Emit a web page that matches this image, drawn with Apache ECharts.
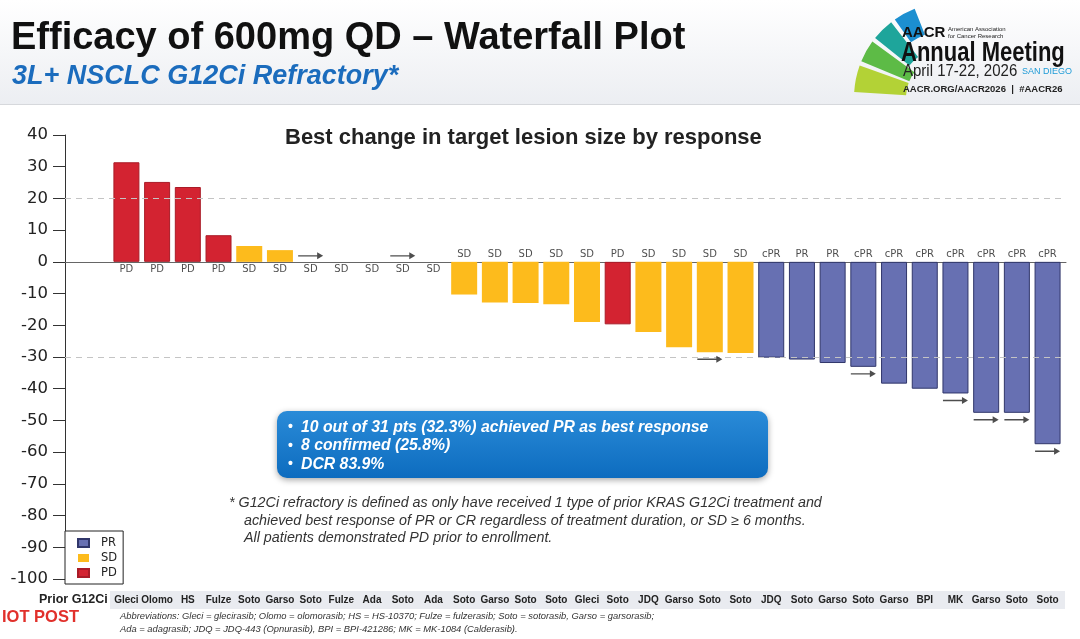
<!DOCTYPE html>
<html>
<head>
<meta charset="utf-8">
<script src="https://cdn.jsdelivr.net/npm/echarts@6/dist/echarts.min.js"></script>
<style>
  html, body { margin: 0; padding: 0; background: #fff; }
  #main { width: 1080px; height: 639px; }
</style>
</head>
<body>
<div id="main"></div>
<script>
// best % change in target lesion size, one per patient (left to right)
const changes = [31.4, 25.2, 23.6, 8.4, 5.0, 3.7, 0, 0, 0, 0, 0,
  -10.3, -12.8, -13.0, -13.4, -19.0, -19.7, -22.1, -26.9, -28.5, -28.7,
  -30.2, -30.8, -31.9, -33.1, -38.4, -40.0, -41.5, -47.6, -47.6, -57.5];

const responses = ['PD', 'PD', 'PD', 'PD', 'SD', 'SD', 'SD', 'SD', 'SD', 'SD', 'SD',
  'SD', 'SD', 'SD', 'SD', 'SD', 'PD', 'SD', 'SD', 'SD', 'SD',
  'cPR', 'PR', 'PR', 'cPR', 'cPR', 'cPR', 'cPR', 'cPR', 'cPR', 'cPR'];

const priorG12Ci = ['Gleci', 'Olomo', 'HS', 'Fulze', 'Soto', 'Garso', 'Soto', 'Fulze', 'Ada', 'Soto', 'Ada',
  'Soto', 'Garso', 'Soto', 'Soto', 'Gleci', 'Soto', 'JDQ', 'Garso', 'Soto', 'Soto',
  'JDQ', 'Soto', 'Garso', 'Soto', 'Garso', 'BPI', 'MK', 'Garso', 'Soto', 'Soto'];

// 1 = still on treatment (arrow)
const ongoing = [0, 0, 0, 0, 0, 0, 1, 0, 0, 1, 0,
  0, 0, 0, 0, 0, 0, 0, 0, 1, 0,
  0, 0, 0, 1, 0, 0, 1, 1, 1, 1];

const groups = ['PR', 'SD', 'PD'];
const groupColors = { PR: '#6770b2', SD: '#fdbb1c', PD: '#d32331' };
const groupBorders = { PR: '#30366a', SD: '#fdbb1c', PD: '#a91b27' };

const refLines = [20, -30];

function groupOf(r) {
  return r === 'cPR' ? 'PR' : r;
}

const arrowPath = 'path://M0,3.3 L19,3.3 L19,0.5 L25,4 L19,7.5 L19,4.7 L0,4.7 Z';

var myChart = echarts.init(document.getElementById('main'));

let barSeries = groups.map(function (g) {
  let data = [];
  changes.forEach(function (v, i) {
    if (groupOf(responses[i]) == g) data.push([i, v]);
  });
  return {
    name: g,
    type: 'bar',
    xAxisIndex: 0,
    barWidth: 26,
    barGap: '-100%',
    data: data,
    itemStyle: {
      color: groupColors[g],
      borderColor: groupBorders[g],
      borderWidth: g == 'SD' ? 0 : 1
    }
  };
});

let option = {
  backgroundColor: '#ffffff',
  animation: false,
  title: [
    {
      text: 'Efficacy of 600mg QD – Waterfall Plot',
      left: 11, top: 20, padding: 0,
      textStyle: { fontFamily: 'Liberation Sans', fontSize: 38, fontWeight: 'bold', color: '#111' }
    },
    {
      text: '3L+ NSCLC G12Ci Refractory*',
      left: 12, top: 63, padding: 0,
      textStyle: { fontFamily: 'Liberation Sans', fontSize: 27, fontStyle: 'italic', fontWeight: 'bold', color: '#1b6cbd' }
    },
    {
      text: 'Best change in target lesion size by response',
      left: 285, top: 127, padding: 0,
      textStyle: { fontFamily: 'Liberation Sans', fontSize: 22, fontWeight: 'bold', color: '#222' }
    },
    {
      text: '* G12Ci refractory is defined as only have received 1 type of prior KRAS G12Ci treatment and',
      left: 229, top: 496, padding: 0,
      textStyle: { fontFamily: 'Liberation Sans', fontSize: 14.3, fontStyle: 'italic', fontWeight: 'normal', color: '#333' }
    },
    {
      text: 'achieved best response of PR or CR regardless of treatment duration, or SD ≥ 6 months.',
      left: 244, top: 514, padding: 0,
      textStyle: { fontFamily: 'Liberation Sans', fontSize: 14.3, fontStyle: 'italic', fontWeight: 'normal', color: '#333' }
    },
    {
      text: 'All patients demonstrated PD prior to enrollment.',
      left: 244, top: 531, padding: 0,
      textStyle: { fontFamily: 'Liberation Sans', fontSize: 14.3, fontStyle: 'italic', fontWeight: 'normal', color: '#333' }
    },
    {
      text: 'Prior G12Ci',
      left: 39, top: 593, padding: 0,
      textStyle: { fontFamily: 'Liberation Sans', fontSize: 12.5, fontWeight: 'bold', color: '#222' }
    },
    {
      text: 'IOT POST',
      left: 2, top: 609, padding: 0,
      textStyle: { fontFamily: 'Liberation Sans', fontSize: 16.5, fontWeight: 'bold', color: '#e1302b' }
    },
    {
      text: 'Abbreviations: Gleci = glecirasib; Olomo = olomorasib; HS = HS-10370; Fulze = fulzerasib; Soto = sotorasib, Garso = garsorasib;',
      left: 120, top: 612, padding: 0,
      textStyle: { fontFamily: 'Liberation Sans', fontSize: 9.4, fontStyle: 'italic', fontWeight: 'normal', color: '#333' }
    },
    {
      text: 'Ada = adagrasib; JDQ = JDQ-443 (Opnurasib), BPI = BPI-421286; MK = MK-1084 (Calderasib).',
      left: 120, top: 625, padding: 0,
      textStyle: { fontFamily: 'Liberation Sans', fontSize: 9.4, fontStyle: 'italic', fontWeight: 'normal', color: '#333' }
    }
  ],
  legend: {
    data: groups,
    orient: 'vertical',
    left: 65, top: 531,
    itemWidth: 11, itemHeight: 8, itemGap: 3,
    padding: [6, 6, 5, 12],
    borderColor: '#222', borderWidth: 1,
    backgroundColor: '#fff',
    icon: 'rect',
    selectedMode: false,
    textStyle: { fontFamily: 'DejaVu Sans', fontSize: 11.5, color: '#222', padding: [0, 0, 0, 7] }
  },
  grid: { left: 65, top: 135, width: 1001, height: 444, containLabel: false },
  xAxis: [
    {
      type: 'value', min: -2, max: 30.6,
      axisLine: { onZero: true, lineStyle: { color: '#666', width: 1 } },
      axisTick: { show: false }, axisLabel: { show: false }, splitLine: { show: false }
    },
    {
      type: 'value', min: -2, max: 30.6, interval: 1, position: 'bottom',
      axisLine: { show: false, onZero: false }, axisTick: { show: false }, splitLine: { show: false },
      axisLabel: {
        margin: 16, hideOverlap: false,
        fontFamily: 'Liberation Sans', fontWeight: 'bold', fontSize: 10, color: '#222',
        formatter: function (v) { return Number.isInteger(v) && priorG12Ci[v] ? priorG12Ci[v] : ''; }
      }
    }
  ],
  yAxis: {
    type: 'value', min: -100, max: 40, interval: 10,
    axisLine: { show: true, onZero: false, lineStyle: { color: '#333' } },
    axisTick: { show: true, inside: false, length: 12, lineStyle: { color: '#333' } },
    axisLabel: { fontFamily: 'DejaVu Sans', fontSize: 16.5, color: '#222', margin: 17 },
    splitLine: { show: false }
  },
  series: barSeries.concat([
    {
      name: 'response',
      type: 'scatter',
      xAxisIndex: 0,
      symbolSize: 1,
      itemStyle: { color: 'transparent' },
      z: 5,
      silent: true,
      data: changes.map(function (v, i) {
        return { value: [i, 0], label: { position: v < 0 ? 'top' : 'bottom' } };
      }),
      label: {
        show: true, distance: 2,
        fontFamily: 'DejaVu Sans', fontSize: 10, color: '#222',
        formatter: function (p) { return responses[p.dataIndex]; }
      },
      markLine: {
        silent: true, symbol: 'none',
        label: { show: false },
        lineStyle: { type: [6, 5], color: '#c4c4c4', width: 1 },
        data: refLines.map(function (y) { return { yAxis: y }; })
      }
    },
    {
      name: 'ongoing',
      type: 'scatter',
      xAxisIndex: 0,
      symbol: arrowPath,
      symbolSize: [25, 7],
      itemStyle: { color: '#222' },
      z: 6,
      silent: true,
      data: changes.map(function (v, i) {
        return ongoing[i] ? { value: [i, v], symbolOffset: [0, v < 0 ? 7 : -6] } : null;
      }).filter(function (d) { return d; })
    }
  ]),
  graphic: [
    {
      type: 'rect', z: -10, silent: true,
      shape: { x: 0, y: 0, width: 1080, height: 104 },
      style: {
        fill: new echarts.graphic.LinearGradient(0, 0, 0, 1, [
          { offset: 0, color: '#ffffff' }, { offset: 1, color: '#eceef2' }
        ])
      }
    },
    { type: 'rect', z: -9, silent: true, shape: { x: 0, y: 104, width: 1080, height: 1 }, style: { fill: '#d6d8dc' } },
    // grey band behind the prior-treatment row
    { type: 'rect', z: -9, silent: true, shape: { x: 110, y: 591, width: 955, height: 18 }, style: { fill: '#e9ebf0' } },
    // summary box
    {
      type: 'group', left: 277, top: 411, z: 20,
      children: [
        {
          type: 'rect',
          shape: { x: 0, y: 0, width: 491, height: 67, r: 10 },
          style: {
            fill: new echarts.graphic.LinearGradient(0, 0, 0, 1, [
              { offset: 0, color: '#2a8bd8' }, { offset: 1, color: '#0d6cbf' }
            ]),
            shadowBlur: 6, shadowColor: 'rgba(0,0,0,0.35)', shadowOffsetY: 2
          }
        },
        {
          type: 'text',
          style: {
            x: 11, y: 7, text: '•\n•\n•', fill: '#fff',
            font: 'bold 14px "Liberation Sans"', lineHeight: 18.5
          }
        },
        {
          type: 'text',
          style: {
            x: 24, y: 7,
            text: '10 out of 31 pts (32.3%) achieved PR as best response\n8 confirmed (25.8%)\nDCR 83.9%',
            fill: '#fff', font: 'italic bold 15.8px "Liberation Sans"', lineHeight: 18.5
          }
        }
      ]
    },
    // AACR logo (absolute coords)
    { type: 'sector', z: 5, silent: true, shape: { cx: 950, cy: 98, r0: 44, r: 96, startAngle: Math.PI * 1.02, endAngle: Math.PI * 1.11 }, style: { fill: '#b3d236' } },
    { type: 'sector', z: 5, silent: true, shape: { cx: 950, cy: 98, r0: 44, r: 96, startAngle: Math.PI * 1.125, endAngle: Math.PI * 1.2 }, style: { fill: '#5dbb46' } },
    { type: 'sector', z: 5, silent: true, shape: { cx: 950, cy: 98, r0: 52, r: 96, startAngle: Math.PI * 1.215, endAngle: Math.PI * 1.29 }, style: { fill: '#1ea59b' } },
    { type: 'sector', z: 5, silent: true, shape: { cx: 950, cy: 98, r0: 68, r: 96, startAngle: Math.PI * 1.305, endAngle: Math.PI * 1.38 }, style: { fill: '#1c8fd0' } },
    { type: 'text', z: 6, silent: true, style: { x: 902, y: 33, text: 'AACR', font: 'bold 15px "Liberation Sans"', fill: '#111', textVerticalAlign: 'middle' } },
    { type: 'text', z: 6, silent: true, style: { x: 948, y: 29, text: 'American Association', font: '6px "Liberation Sans"', fill: '#222', textVerticalAlign: 'middle' } },
    { type: 'text', z: 6, silent: true, style: { x: 948, y: 36, text: 'for Cancer Research', font: '6px "Liberation Sans"', fill: '#222', textVerticalAlign: 'middle' } },
    { type: 'text', z: 6, silent: true, originX: 901, originY: 53, scaleY: 1.25, style: { x: 901, y: 53, text: 'Annual Meeting', font: 'bold 22px "Liberation Sans"', fill: '#111', textVerticalAlign: 'middle' } },
    { type: 'text', z: 6, silent: true, originX: 903, originY: 71, scaleY: 1.15, style: { x: 903, y: 71, text: 'April 17-22, 2026', font: '15px "Liberation Sans"', fill: '#222', textVerticalAlign: 'middle' } },
    { type: 'text', z: 6, silent: true, style: { x: 1022, y: 72, text: 'SAN DIEGO', font: '9px "Liberation Sans"', fill: '#1e9bd7', textVerticalAlign: 'middle' } },
    { type: 'text', z: 6, silent: true, style: { x: 903, y: 89, text: 'AACR.ORG/AACR2026  |  #AACR26', font: 'bold 9.5px "Liberation Sans"', fill: '#222', textVerticalAlign: 'middle' } }
  ]
};

myChart.setOption(option);
</script>
</body>
</html>
